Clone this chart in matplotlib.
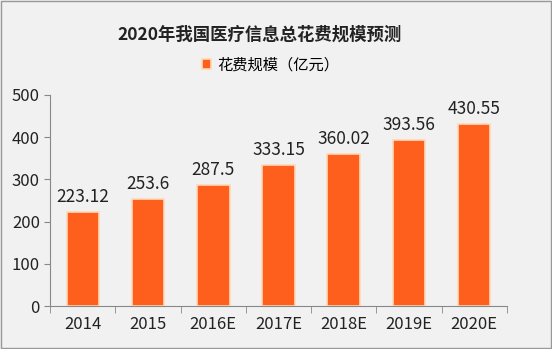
import matplotlib.pyplot as plt
import numpy as np
from matplotlib.patches import Rectangle

plt.rcParams["font.family"] = ["Noto Sans CJK SC", "DejaVu Sans"]

YEARS = ["2014", "2015", "2016E", "2017E", "2018E", "2019E", "2020E"]
SPEND = [223.12, 253.6, 287.5, 333.15, 360.02, 393.56, 430.55]

BAR_COLOR = "#FF5F1C"
BG = "#F1F1F1"

fig = plt.figure(figsize=(5.52, 3.49), dpi=100, facecolor=BG)
ax = fig.add_axes([0.091, 0.123, 0.827, 0.605], facecolor=BG)

x = np.arange(len(YEARS))
bars = ax.bar(x, SPEND, width=0.5, color=BAR_COLOR, edgecolor="#FFD9B8",
              linewidth=1.2, label="花费规模（亿元）")
for bar, v in zip(bars, SPEND):
    ax.text(bar.get_x() + bar.get_width() / 2, bar.get_height() + 14,
            f"{v:g}", ha="center", va="bottom", fontsize=12.5,
            color="#222222")

ax.set_xlim(-0.5, len(YEARS) - 0.5)
ax.set_ylim(0, 500)
ax.set_yticks(range(0, 501, 100))
ax.tick_params(axis="y", labelsize=12, length=4, color="#888888",
               labelcolor="#222222")
ax.set_xticks(x)
ax.set_xticklabels(YEARS)
ax.set_xticks(np.arange(-0.5, len(YEARS)), minor=True)
ax.tick_params(axis="x", which="major", length=0, labelsize=12,
               labelcolor="#222222", pad=7)
ax.tick_params(axis="x", which="minor", length=5, color="#888888")
for side in ("top", "right"):
    ax.spines[side].set_visible(False)
for side in ("left", "bottom"):
    ax.spines[side].set_color("#888888")

fig.text(0.47, 0.9, "2020年我国医疗信息总花费规模预测", ha="center",
         va="center", fontsize=12.5, fontweight="bold", color="#222222")
fig.legend(handles=[bars], labels=["花费规模（亿元）"], loc="center",
           bbox_to_anchor=(0.49, 0.815), frameon=False, fontsize=11,
           handlelength=0.6, handleheight=0.6, handletextpad=0.4)

fig.patches.append(Rectangle((0.002, 0.003), 0.996, 0.994,
                             transform=fig.transFigure, fill=False,
                             edgecolor="#999999", linewidth=1))

fig.savefig("out.png", dpi=100, facecolor=BG)
